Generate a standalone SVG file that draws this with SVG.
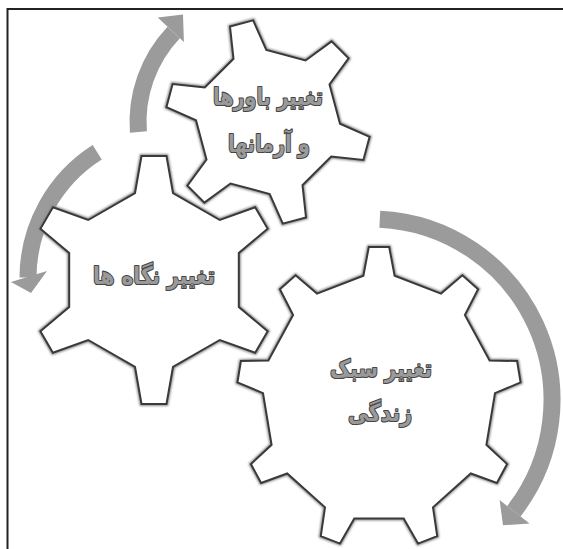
<svg xmlns="http://www.w3.org/2000/svg" xmlns:xlink="http://www.w3.org/1999/xlink" width="563" height="549" viewBox="0 0 563 549">
  <style>
    .frame { fill: none; stroke: #222; stroke-width: 2; }
    .band { fill: none; stroke: #9b9b9b; stroke-width: 17; }
    .head { fill: #9b9b9b; }
    .halo { fill: none; stroke: #8c8c8c; stroke-width: 4; filter: url(#soft); }
    .gear { fill: #fff; stroke: #3a3a3a; stroke-width: 2; stroke-linejoin: miter; }
    .label { font-family: "DejaVu Sans", sans-serif; font-weight: bold; font-size: 24px;
             fill: #9a9a9a; stroke: #454545; stroke-width: 2.2; paint-order: stroke;
             stroke-linejoin: round; text-anchor: middle; }
  </style>
  <defs>
    <filter id="soft" x="-10%" y="-10%" width="120%" height="120%">
      <feGaussianBlur stdDeviation="1.3"/>
    </filter>
    <!-- six-tooth gear, centre (154,280) -->
    <polygon id="shape-left" points="135,193 141.5,156 166.5,156 173,193 219.8,220 255.2,207.2 267.7,228.8 238.8,253 238.8,307 267.7,331.2 255.2,352.8 219.8,340 173,367 166.5,404 141.5,404 135,367 88.2,340 52.9,352.8 40.4,331.2 69.2,307 69.2,253 40.4,228.8 52.9,207.2 88.2,220"/>
    <!-- six-tooth gear, centre (268,122), turned 15 degrees -->
    <polygon id="shape-top" points="233.5,58.8 230,26.6 253.2,20.4 266.3,50 305.5,60.5 331.6,41.4 348.6,58.4 329.5,84.5 340,123.7 369.6,136.8 363.4,160 331.2,156.5 302.5,185.2 306,217.4 282.8,223.6 269.7,194 230.5,183.5 204.4,202.6 187.4,185.6 206.5,159.5 196,120.3 166.4,107.2 172.6,84 204.8,87.5"/>
    <!-- nine-tooth gear, centre (379,398) -->
    <polygon id="shape-big" points="363.4,275.7 368.8,247 389.2,247 394.6,275.7 441,293.6 462.4,275.3 478.1,289.3 464.9,315 489.6,360.4 517.1,361.1 520.6,382.5 495,393.1 486.4,444.8 507.1,464.1 496.9,482.9 470.8,473.5 433,507.3 437.2,536.2 418,543.6 403.7,518.6 354.3,518.6 340,543.6 320.8,536.2 325,507.3 287.2,473.5 261.1,482.9 250.9,464.1 271.6,444.8 263,393.1 237.4,382.5 240.9,361.1 268.4,360.4 293.1,315 279.9,289.3 295.6,275.3 317,293.6"/>
  </defs>

  <rect width="563" height="549" fill="#fff"/>
  <path class="frame" d="M7.5,549 V9 H563"/>

  <g id="connectors">
    <g id="arrow-up">
      <path class="band" d="M138.4,132 A130,130 0 0 1 173.7,32.5"/>
      <polygon class="head" points="157.7,17.4 183,14.6 183.9,42.1"/>
    </g>
    <g id="arrow-down-left">
      <path class="band" d="M97.2,152.2 A149,149 0 0 0 28,277.5"/>
      <polygon class="head" points="11,282 47,271 31,293"/>
    </g>
    <g id="arrow-down-right">
      <path class="band" d="M379.8,219.2 A181,181 0 0 1 513.8,511.2"/>
      <polygon class="head" points="499.6,500.1 529.6,523.5 503,525.3"/>
    </g>
  </g>

  <g id="gear-lifestyle">
    <use xlink:href="#shape-big" class="halo"/>
    <use xlink:href="#shape-big" class="gear"/>
    <text class="label" x="381" y="377" textLength="102" lengthAdjust="spacingAndGlyphs">تغییر سبک</text>
    <text class="label" x="380" y="421" textLength="64" lengthAdjust="spacingAndGlyphs">زندگی</text>
  </g>

  <g id="gear-views">
    <use xlink:href="#shape-left" class="halo"/>
    <use xlink:href="#shape-left" class="gear"/>
    <text class="label" x="154" y="284" textLength="122" lengthAdjust="spacingAndGlyphs">تغییر نگاه ها</text>
  </g>

  <g id="gear-beliefs">
    <use xlink:href="#shape-top" class="halo"/>
    <use xlink:href="#shape-top" class="gear"/>
    <text class="label" x="268" y="105" textLength="110" lengthAdjust="spacingAndGlyphs">تغییر باورها</text>
    <text class="label" x="269" y="152" textLength="82" lengthAdjust="spacingAndGlyphs">و آرمانها</text>
  </g>
</svg>
